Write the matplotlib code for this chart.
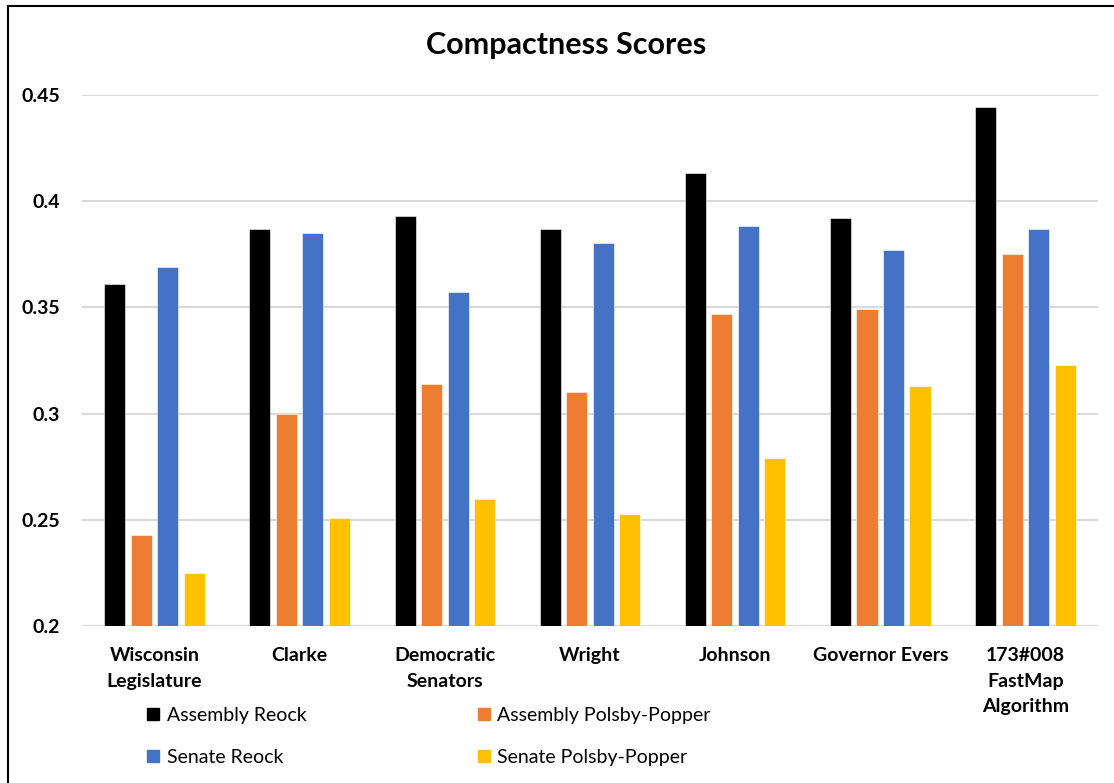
import matplotlib.pyplot as plt
import numpy as np
from matplotlib.lines import Line2D

plt.rcParams['font.family'] = ['Lato', 'DejaVu Sans']

categories = ['Wisconsin\nLegislature', 'Clarke', 'Democratic\nSenators', 'Wright',
              'Johnson', 'Governor Evers', '173#008\nFastMap\nAlgorithm']
assembly_reock = [0.361, 0.387, 0.393, 0.387, 0.413, 0.392, 0.444]
assembly_pp = [0.243, 0.300, 0.314, 0.310, 0.347, 0.349, 0.375]
senate_reock = [0.369, 0.385, 0.357, 0.380, 0.388, 0.377, 0.387]
senate_pp = [0.225, 0.251, 0.260, 0.253, 0.279, 0.313, 0.323]

series = [('Assembly Reock', assembly_reock, '#000000'),
          ('Assembly Polsby-Popper', assembly_pp, '#ED7D31'),
          ('Senate Reock', senate_reock, '#4472C4'),
          ('Senate Polsby-Popper', senate_pp, '#FFC000')]

fig = plt.figure(figsize=(11.14, 7.83), dpi=100)
ax = fig.add_axes([0.0736, 0.2, 0.912, 0.6792])

x = np.arange(len(categories))
slot = 0.1826
width = 0.145
for i, (name, vals, col) in enumerate(series):
    ax.bar(x + (i - 1.5) * slot, np.array(vals) - 0.2, width, bottom=0.2,
           color=col, edgecolor='white', linewidth=0.4, label=name, zorder=3)

ax.set_xlim(-0.5, len(categories) - 0.5)
ax.set_ylim(0.2, 0.45)
ax.set_yticks([0.2, 0.25, 0.3, 0.35, 0.4, 0.45])
ax.set_yticklabels(['0.2', '0.25', '0.3', '0.35', '0.4', '0.45'])
ax.yaxis.grid(True, color='#d9d9d9', linewidth=1.5, zorder=0)
ax.set_axisbelow(True)
for s in ax.spines.values():
    s.set_visible(False)
ax.tick_params(axis='both', length=0, labelsize=14)
ax.tick_params(axis='y', pad=16)
ax.set_xticks(x)
ax.set_xticklabels(categories, fontweight='bold', linespacing=1.6, va='top')
ax.tick_params(axis='x', pad=15)
for lab in ax.get_yticklabels():
    lab.set_fontweight('bold')

fig.text(0.508, 0.942, 'Compactness Scores', ha='center', va='center',
         fontsize=22, fontweight='bold')

handles = [Line2D([], [], marker='s', linestyle='none', markersize=8,
                  color=col, label=name) for name, _, col in series]
order = [0, 2, 1, 3]
fig.legend([handles[k] for k in order], [series[k][0] for k in order],
           ncol=2, loc='upper left', bbox_to_anchor=(0.122, 0.11),
           frameon=False, fontsize=14, handlelength=0.8, handletextpad=0.3,
           columnspacing=8.7, labelspacing=1.3, borderpad=0)

# outer border (top and left only)
fig.add_artist(Line2D([0.0068, 0.0068], [0, 0.9924], color='black', linewidth=1.5,
                      transform=fig.transFigure))
fig.add_artist(Line2D([0.0068, 1.0], [0.9924, 0.9924], color='black', linewidth=1.5,
                      transform=fig.transFigure))

fig.savefig('out.png', dpi=100)
